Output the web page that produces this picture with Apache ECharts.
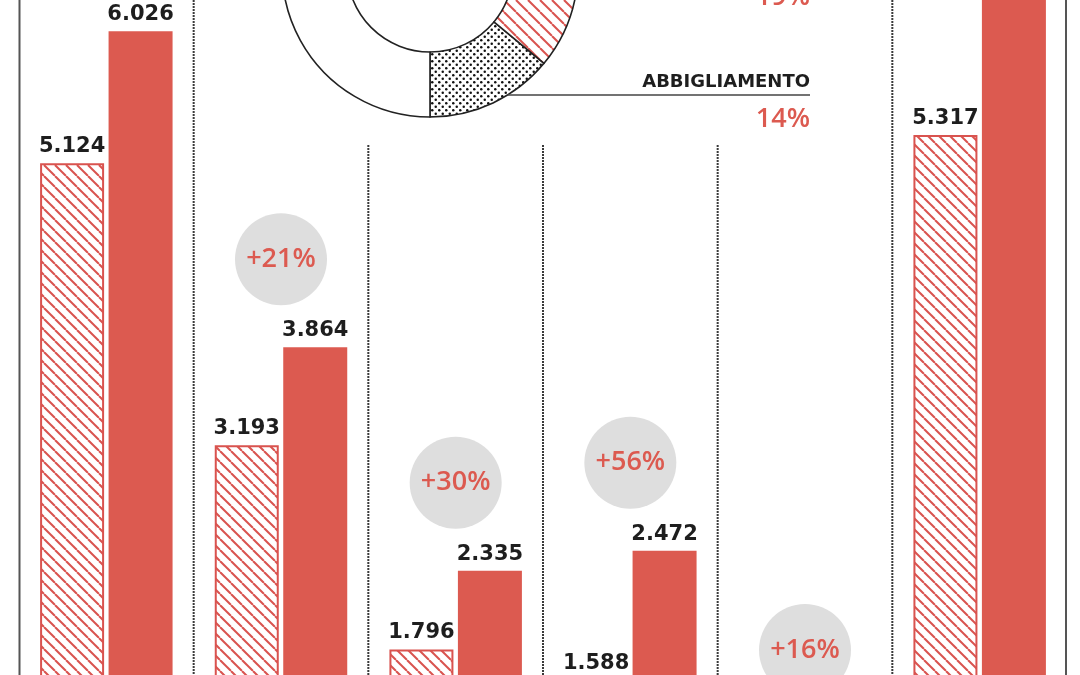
<!DOCTYPE html>
<html><head><meta charset="utf-8">
<script src="https://cdn.jsdelivr.net/npm/echarts@6/dist/echarts.min.js"></script>
<style>html,body{margin:0;padding:0;background:#fff}#c{width:1080px;height:675px}</style>
</head><body><div id="c"></div>
<script>
// ---- data ----
const categories = ['Gruppo 1', 'Gruppo 2', 'Gruppo 3', 'Gruppo 4', 'Gruppo 5', 'Gruppo 6'];
const prevValues = [5124, 3193, 1796, 1588, 1026, 5317];
const currValues = [6026, 3864, 2335, 2472, 1190, 6450];
const growthLabels = [null, '+21%', '+30%', '+56%', '+16%', null];
const pieNames = ['ABBIGLIAMENTO', 'SETTORE', 'ALTRI'];
const pieValues = [14, 19, 67];
const pieLabels = ['14%', '19%', ''];

// ---- styles ----
const RED = '#dc5a50';
const HATCH_RED = '#d9534f';

function hatch(color, s, lw) {
  const c = document.createElement('canvas'); c.width = s; c.height = s;
  const g = c.getContext('2d');
  g.fillStyle = '#fff'; g.fillRect(0, 0, s, s);
  g.strokeStyle = color; g.lineWidth = lw;
  for (const k of [-1, 0, 1]) { g.beginPath(); g.moveTo(k * s, 0); g.lineTo(k * s + s, s); g.stroke(); }
  return c;
}
function dots() {
  const s = 7;
  const c = document.createElement('canvas'); c.width = s; c.height = s;
  const g = c.getContext('2d');
  g.fillStyle = '#fff'; g.fillRect(0, 0, s, s);
  g.fillStyle = '#111';
  [[1.75, 1.75], [5.25, 5.25]].forEach(p => { g.beginPath(); g.arc(p[0], p[1], 1.25, 0, Math.PI * 2); g.fill(); });
  return c;
}
const hatchPat = { image: hatch(HATCH_RED, 11, 2), repeat: 'repeat' };
const hatchPatPie = { image: hatch(HATCH_RED, 12, 2), repeat: 'repeat' };
const dotPat = { image: dots(), repeat: 'repeat' };

function fmt(v) {
  const s = String(Math.round(v));
  return s.length > 3 ? s.slice(0, s.length - 3) + '.' + s.slice(s.length - 3) : s;
}

// ---- layout constants ----
const GL = 19, GR = 13, W = 1080, H = 675;
const band = (W - GL - GR) / categories.length;
const pieCX = 430, pieCY = -31, pieR0 = 83, pieR1 = 148;

const chart = echarts.init(document.getElementById('c'), null, { renderer: 'canvas' });

const valueLabel = {
  show: true, position: 'top', distance: 6,
  color: '#1e1e1e', fontFamily: 'DejaVu Sans', fontWeight: 'bold', fontSize: 21,
  formatter: p => fmt(p.value)
};

// decorative separators
const graphics = [];
function vline(x, y0, dashed, color, w) {
  graphics.push({
    type: 'line', silent: true, z: 0,
    shape: { x1: x, y1: y0, x2: x, y2: H },
    style: { stroke: color, lineWidth: w, lineDash: dashed ? [2, 1] : null }
  });
}
vline(GL + 0.5, 0, false, '#555', 2);
vline(W - GR - 1, 0, false, '#555', 2);
for (let i = 1; i < categories.length; i++) {
  const x = GL + i * band;
  const full = (i === 1 || i === categories.length - 1);
  vline(x, full ? 0 : 145, true, '#3a3a3a', 2);
}
// pie annotation for item 0 (ABBIGLIAMENTO)
const lineY = 95;
const lineX0 = pieCX + Math.sqrt(pieR1 * pieR1 - (lineY - pieCY) * (lineY - pieCY));
graphics.push({
  type: 'line', silent: true, z: 5,
  shape: { x1: lineX0, y1: lineY, x2: 810, y2: lineY },
  style: { stroke: '#444', lineWidth: 1.6 }
});
graphics.push({
  type: 'text', silent: true, z: 5, x: 810, y: 82,
  style: { text: pieNames[0], align: 'right', verticalAlign: 'middle', textAlign: 'right', textVerticalAlign: 'middle',
           fill: '#1e1e1e', font: 'bold 18px "DejaVu Sans"' }
});
graphics.push({
  type: 'text', silent: true, z: 5, x: 810, y: 119,
  style: { text: pieLabels[0], align: 'right', verticalAlign: 'middle', textAlign: 'right', textVerticalAlign: 'middle',
           fill: RED, font: '600 27px "Open Sans"' }
});
graphics.push({
  type: 'text', silent: true, z: 5, x: 810, y: -3,
  style: { text: pieLabels[1], align: 'right', verticalAlign: 'middle', textAlign: 'right', textVerticalAlign: 'middle',
           fill: RED, font: '600 27px "Open Sans"' }
});

const pieStyles = [
  { color: dotPat, borderColor: '#222', borderWidth: 1.6 },
  { color: hatchPatPie, borderColor: '#222', borderWidth: 1.6 },
  { color: '#fff', borderColor: '#222', borderWidth: 1.6 }
];

chart.setOption({
  animation: false,
  backgroundColor: '#fff',
  grid: { left: GL, right: GR, top: -111, bottom: -237, containLabel: false, outerBoundsMode: 'none' },
  xAxis: {
    type: 'category', data: categories,
    axisLine: { show: false }, axisTick: { show: false }, axisLabel: { show: false }, splitLine: { show: false }
  },
  yAxis: {
    type: 'value', min: 0, max: 7000, interval: 1000,
    axisLine: { show: false }, axisTick: { show: false }, axisLabel: { show: false }, splitLine: { show: false }
  },
  graphic: graphics,
  series: [
    {
      name: 'Precedente', type: 'bar', data: prevValues, barWidth: 64, barGap: '7%',
      itemStyle: { color: hatchPat, borderColor: HATCH_RED, borderWidth: 2 },
      label: valueLabel, z: 2
    },
    {
      name: 'Attuale', type: 'bar', data: currValues, barWidth: 64,
      itemStyle: { color: RED },
      label: valueLabel, z: 2
    },
    {
      name: 'Crescita', type: 'scatter', z: 3, clip: false,
      data: currValues.map((v, i) => growthLabels[i] ? v : '-'),
      symbol: 'circle', symbolSize: 92, symbolOffset: [0, -88],
      itemStyle: { color: '#dedede', opacity: 1 },
      label: {
        show: true, position: 'inside', color: RED,
        fontFamily: 'Open Sans', fontWeight: 600, fontSize: 27,
        formatter: p => growthLabels[p.dataIndex] || ''
      },
      silent: true
    },
    {
      name: 'Quote', type: 'pie', center: [pieCX, pieCY], radius: [pieR0, pieR1],
      startAngle: 270, clockwise: false, silent: true, z: 4,
      label: { show: false }, labelLine: { show: false },
      data: pieValues.map((v, i) => ({ name: pieNames[i], value: v, itemStyle: pieStyles[i] }))
    }
  ]
});
</script>
</body></html>
